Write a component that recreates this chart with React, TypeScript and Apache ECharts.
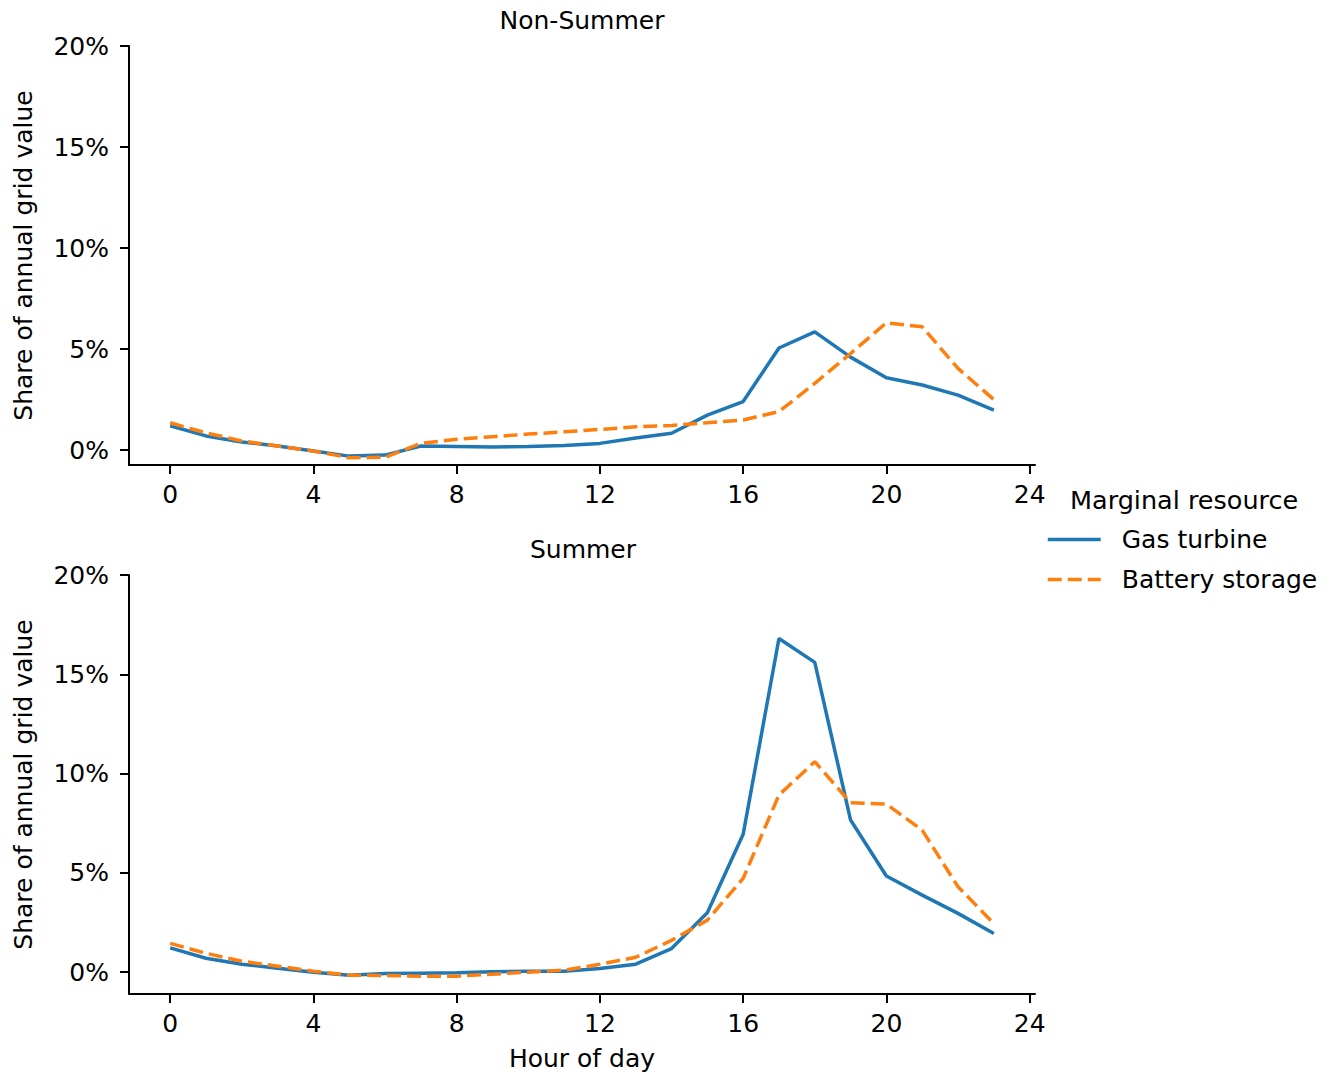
import React, { useEffect, useRef } from "react";
import * as echarts from "echarts";

const hours = [0, 1, 2, 3, 4, 5, 6, 7, 8, 9, 10, 11, 12, 13, 14, 15, 16, 17, 18, 19, 20, 21, 22, 23];

const nonSummerGas = [1.2, 0.7, 0.4, 0.2, -0.05, -0.3, -0.25, 0.2, 0.18, 0.15, 0.18, 0.22, 0.33, 0.6, 0.83, 1.73, 2.4, 5.05, 5.85, 4.6, 3.58, 3.22, 2.72, 1.98];
const nonSummerBattery = [1.35, 0.85, 0.45, 0.2, -0.05, -0.38, -0.36, 0.33, 0.53, 0.66, 0.79, 0.9, 1.02, 1.15, 1.22, 1.35, 1.49, 1.9, 3.3, 4.78, 6.3, 6.1, 4.04, 2.5];
const summerGas = [1.22, 0.7, 0.4, 0.2, 0.0, -0.15, -0.07, -0.05, -0.03, 0.02, 0.05, 0.05, 0.18, 0.4, 1.19, 2.99, 6.94, 16.8, 15.6, 7.66, 4.84, 3.88, 2.96, 1.95];
const summerBattery = [1.45, 0.95, 0.55, 0.3, 0.05, -0.15, -0.17, -0.2, -0.2, -0.1, 0.0, 0.1, 0.4, 0.75, 1.6, 2.62, 4.72, 8.92, 10.6, 8.53, 8.46, 7.15, 4.3, 2.45];

const xTicks = [0, 4, 8, 12, 16, 20, 24];
const yTicks = [0, 5, 10, 15, 20];
const seriesNames = ["Gas turbine", "Battery storage"];
const panelTitles = ["Non-Summer", "Summer"];
const legendTitle = "Marginal resource";
const yName = "Share of annual grid value";
const xName = "Hour of day";

const FONT = "DejaVu Sans";
const FS = 25;
const BLUE = "#1f77b4";
const ORANGE = "#ff7f0e";

function pairs(vals: number[]) {
  return hours.map((h, i) => [h, vals[i]]);
}

export default function App() {
  const ref = useRef<HTMLDivElement>(null);
  useEffect(() => {
    if (!ref.current) return;
    const chart = echarts.init(ref.current, null, { renderer: "svg" });
    const axisLine = { show: true, onZero: false, lineStyle: { color: "#000", width: 2 } };
    const axisTick = (vals: number[]) => ({ show: true, length: 9, lineStyle: { color: "#000", width: 2 }, customValues: vals });
    const mkX = (idx: number, withName: boolean) => ({
      type: "value",
      gridIndex: idx,
      min: -1.15,
      max: 24.15,
      axisLine,
      axisTick: axisTick(xTicks),
      axisLabel: { customValues: xTicks, color: "#000", fontFamily: FONT, fontSize: FS, margin: 17 },
      splitLine: { show: false },
      name: withName ? xName : "",
      nameLocation: "middle",
      nameGap: 52,
      nameTextStyle: { color: "#000", fontFamily: FONT, fontSize: FS },
    });
    const mkY = (idx: number, min: number) => ({
      type: "value",
      gridIndex: idx,
      min,
      max: 20,
      axisLine,
      axisTick: axisTick(yTicks),
      axisLabel: {
        customValues: yTicks,
        color: "#000",
        fontFamily: FONT,
        fontSize: FS,
        margin: 20,
        formatter: (v: number) => v + "%",
      },
      splitLine: { show: false },
      name: yName,
      nameLocation: "middle",
      nameGap: 93,
      nameTextStyle: { color: "#000", fontFamily: FONT, fontSize: FS },
    });
    const mkSeries = (name: string, vals: number[], idx: number, color: string, dashed: boolean) => ({
      type: "line",
      name,
      xAxisIndex: idx,
      yAxisIndex: idx,
      data: pairs(vals),
      symbol: "none",
      showSymbol: false,
      color,
      lineStyle: { color, width: 3.5, type: dashed ? [14, 6] : "solid" },
      itemStyle: { color },
    });
    chart.setOption({
      animation: false,
      backgroundColor: "#fff",
      title: [
        { text: panelTitles[0], left: 582, top: 8, padding: 0, textAlign: "center", textStyle: { color: "#000", fontFamily: FONT, fontSize: FS, fontWeight: "normal" } },
        { text: panelTitles[1], left: 583, top: 537, padding: 0, textAlign: "center", textStyle: { color: "#000", fontFamily: FONT, fontSize: FS, fontWeight: "normal" } },
      ],
      grid: [
        { left: 129, top: 46, width: 906, height: 419, containLabel: false },
        { left: 129, top: 575, width: 906, height: 419, containLabel: false },
      ],
      xAxis: [mkX(0, false), mkX(1, true)],
      yAxis: [mkY(0, -0.74), mkY(1, -1.1)],
      legend: {
        data: seriesNames,
        orient: "vertical",
        left: 1041,
        top: 522,
        itemWidth: 53,
        itemHeight: 14,
        itemGap: 15,
        itemStyle: { opacity: 0, borderWidth: 0 },
        lineStyle: { width: 3.5 },
        textStyle: { color: "#000", fontFamily: FONT, fontSize: FS, lineHeight: 25, padding: [0, 0, 0, 16] },
      },
      graphic: [
        {
          type: "text",
          left: 1070,
          top: 487,
          style: { text: legendTitle, fill: "#000", font: `25.5px "${FONT}"` },
        },
      ],
      series: [
        mkSeries(seriesNames[0], nonSummerGas, 0, BLUE, false),
        mkSeries(seriesNames[1], nonSummerBattery, 0, ORANGE, true),
        mkSeries(seriesNames[0], summerGas, 1, BLUE, false),
        mkSeries(seriesNames[1], summerBattery, 1, ORANGE, true),
      ],
    });
    return () => chart.dispose();
  }, []);
  return <div ref={ref} style={{ position: "absolute", left: 0, top: 0, width: 1327, height: 1074 }} />;
}
